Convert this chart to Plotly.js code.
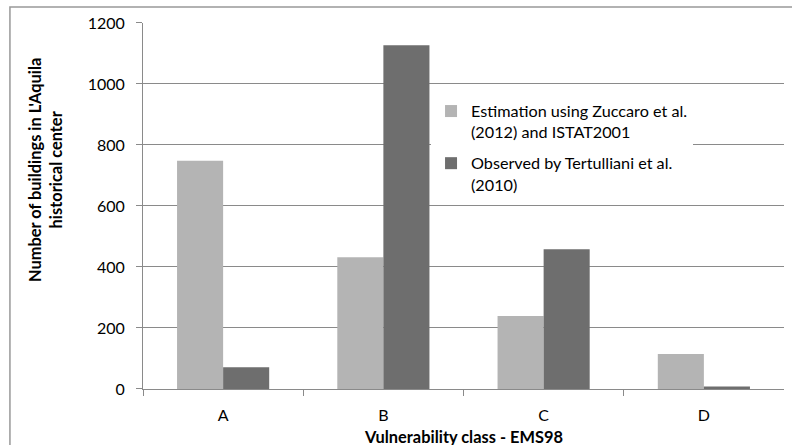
<!DOCTYPE html>
<html>
<head>
<meta charset="utf-8">
<script src="https://cdn.plot.ly/plotly-3.0.1.min.js"></script>
<style>
html,body{margin:0;padding:0;background:#fff;}
#chart{width:792px;height:445px;}
</style>
</head>
<body>
<div id="chart"></div>
<script>
var categories = ["A", "B", "C", "D"];
var estimated = [748, 432, 239, 115];
var observed = [71, 1127, 458, 8];
var seriesNames = ["Estimation using Zuccaro et al.<br>(2012) and ISTAT2001", "Observed by Tertulliani et al.<br>(2010)"];
var yTicks = [0, 200, 400, 600, 800, 1000, 1200];

var FONT = "Lato, 'Open Sans', sans-serif";
var grid = "#8a8a8a";

var traces = [
  {type: "bar", x: categories, y: estimated, name: seriesNames[0], legendgroup: "g1", marker: {color: "#b4b4b4"}, hoverinfo: "none"},
  {type: "bar", x: categories, y: observed, name: seriesNames[1], legendgroup: "g2", marker: {color: "#6e6e6e"}, hoverinfo: "none"}
];

// paper area: x 9..792, y 6..445
var layout = {
  width: 792, height: 445,
  margin: {l: 9, r: 0, t: 6, b: 0, pad: 0},
  paper_bgcolor: "#fff", plot_bgcolor: "#fff",
  font: {family: FONT, size: 16, color: "#000"},
  barmode: "group",
  bargap: 0.425, bargroupgap: 0,
  showlegend: true,
  legend: {x: 0.539, y: 0.7995, xanchor: "left", yanchor: "top", bgcolor: "#fff",
           font: {family: FONT, size: 16.2, color: "#000"}, valign: "top",
           traceorder: "grouped", tracegroupgap: 7},
  xaxis: {type: "category", domain: [0.17114, 0.98978], showline: true, linecolor: grid, linewidth: 1,
          ticks: "outside", tickson: "boundaries", ticklen: 6, tickcolor: grid,
          ticklabelstandoff: 12, tickfont: {size: 16}, showgrid: false, zeroline: false,
          fixedrange: true, automargin: false},
  yaxis: {range: [0, 1200], domain: [0.12756, 0.96128], tickvals: yTicks, ticktext: yTicks.map(String),
          showline: true, linecolor: grid, linewidth: 1, ticks: "outside", ticklen: 6,
          tickcolor: grid, ticklabelstandoff: 8, tickfont: {size: 16},
          showgrid: true, gridcolor: grid, gridwidth: 1, zeroline: false, fixedrange: true,
          automargin: false},
  annotations: [
    {text: "<b>Number of buildings in L'Aquila<br>historical center</b>", textangle: -90,
     xref: "paper", yref: "paper", x: 0.046, y: 0.6264, xanchor: "center", yanchor: "middle",
     showarrow: false, font: {family: FONT, size: 16.4, color: "#000"}},
    {text: "<b>Vulnerability class - EMS98</b>", xref: "paper", yref: "paper",
     x: 0.5805, y: 0.0184, xanchor: "center", yanchor: "middle", showarrow: false,
     font: {family: FONT, size: 16.4, color: "#000"}}
  ],
  shapes: [
    {type: "rect", xref: "paper", yref: "paper", layer: "above",
     x0: 0.0012, x1: 1.05, y0: -0.05, y1: 0.9977,
     line: {color: "#999999", width: 1.5}, fillcolor: "rgba(0,0,0,0)"}
  ]
};

Plotly.newPlot("chart", traces, layout, {displayModeBar: false, staticPlot: true});
</script>
</body>
</html>
